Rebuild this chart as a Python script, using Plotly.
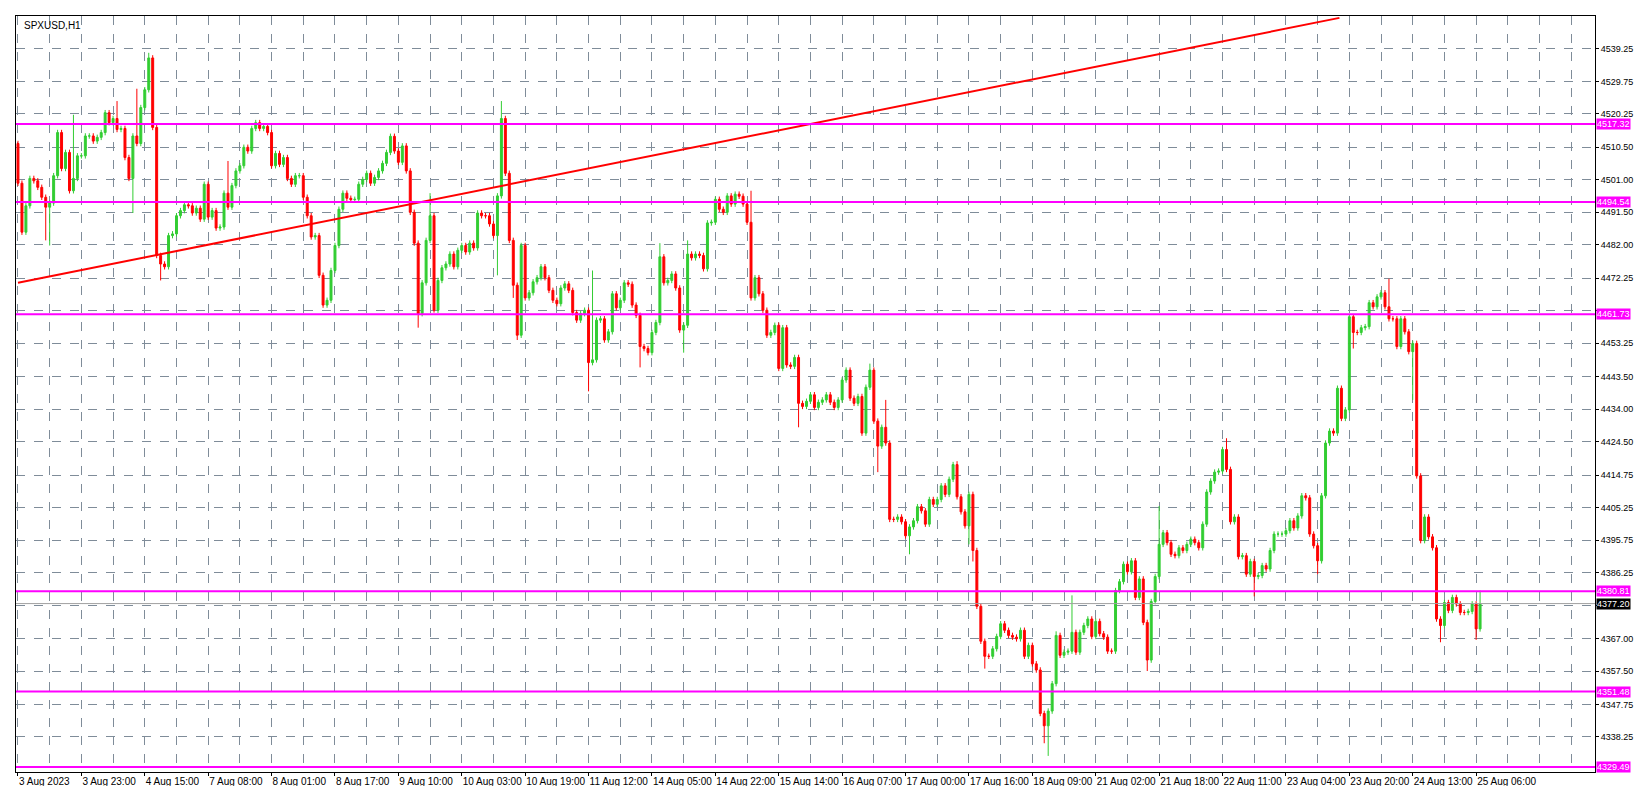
import plotly.graph_objects as go

# hourly closes, SPXUSD H1 (bar 0 = 3 Aug 2023 07:00)
closes = [
    4500.0, 4485.7, 4493.4, 4501.4, 4500.7, 4498.8, 4495.9, 4493.0, 4494.2, 4502.2,
    4514.8, 4504.3, 4509.0, 4497.8, 4501.4, 4508.0, 4508.0, 4513.8, 4513.8, 4512.3,
    4513.4, 4514.8, 4520.6, 4517.7, 4518.9, 4515.7, 4516.0, 4507.5, 4501.4, 4513.8,
    4511.6, 4522.1, 4527.3, 4536.6, 4516.3, 4478.9, 4476.4, 4475.6, 4484.7, 4485.2,
    4490.5, 4492.0, 4493.7, 4493.4, 4491.3, 4492.7, 4489.5, 4499.7, 4490.1, 4492.0,
    4486.9, 4487.2, 4497.1, 4493.0, 4499.3, 4503.6, 4505.1, 4510.5, 4509.4, 4516.0,
    4517.7, 4516.0, 4516.6, 4514.8, 4505.1, 4508.7, 4505.5, 4507.5, 4501.4, 4499.7,
    4502.2, 4502.2, 4495.9, 4490.5, 4484.3, 4484.7, 4473.1, 4464.4, 4465.8, 4474.5,
    4481.8, 4492.4, 4497.1, 4495.6, 4495.2, 4495.3, 4499.7, 4501.1, 4502.9, 4500.0,
    4501.7, 4503.6, 4505.8, 4509.0, 4513.7, 4509.4, 4506.1, 4510.9, 4503.6, 4491.5,
    4482.5, 4461.9, 4470.9, 4483.3, 4490.5, 4462.9, 4471.6, 4475.3, 4476.4, 4479.3,
    4475.6, 4480.4, 4481.8, 4479.9, 4482.5, 4481.1, 4491.3, 4490.5, 4490.5, 4488.1,
    4484.7, 4496.3, 4518.9, 4502.9, 4483.3, 4470.2, 4455.6, 4481.8, 4466.5, 4468.0,
    4471.2, 4472.4, 4475.6, 4472.4, 4468.7, 4465.8, 4464.8, 4469.4, 4470.6, 4468.7,
    4462.2, 4460.0, 4461.9, 4462.9, 4447.6, 4448.4, 4460.0, 4460.4, 4454.2, 4456.6,
    4467.7, 4463.6, 4465.8, 4470.9, 4470.5, 4464.4, 4461.4, 4452.3, 4451.7, 4450.5,
    4456.4, 4459.3, 4478.5, 4470.9, 4471.6, 4473.5, 4469.4, 4457.1, 4458.5, 4479.3,
    4478.2, 4479.3, 4478.9, 4475.0, 4488.4, 4488.6, 4495.3, 4492.4, 4491.5, 4496.3,
    4493.9, 4496.8, 4496.2, 4493.9, 4488.6, 4466.5, 4472.4, 4467.7, 4462.9, 4455.6,
    4456.4, 4458.5, 4445.9, 4457.8, 4446.9, 4446.5, 4449.1, 4435.7, 4434.8, 4436.3,
    4438.2, 4434.5, 4436.0, 4436.7, 4438.2, 4436.0, 4434.5, 4436.7, 4442.5, 4445.4,
    4437.2, 4435.7, 4437.7, 4427.0, 4440.4, 4445.4, 4430.5, 4423.2, 4428.7, 4424.1,
    4401.8, 4401.8, 4402.5, 4401.1, 4397.0, 4399.6, 4401.4, 4405.5, 4404.3, 4400.4,
    4407.6, 4406.2, 4407.6, 4411.6, 4409.1, 4413.5, 4417.8, 4408.4, 4404.0, 4399.9,
    4409.1, 4392.7, 4376.4, 4366.2, 4361.8, 4361.8, 4364.0, 4367.6, 4371.3, 4369.4,
    4367.9, 4367.4, 4366.9, 4369.4, 4361.8, 4365.0, 4359.6, 4357.8, 4345.1, 4341.5,
    4345.8, 4353.8, 4367.9, 4362.1, 4363.0, 4363.3, 4368.8, 4363.0, 4368.8, 4370.8,
    4372.7, 4367.6, 4372.0, 4368.4, 4367.4, 4363.3, 4363.3, 4381.0, 4383.6, 4388.7,
    4386.5, 4389.7, 4379.0, 4384.4, 4371.7, 4360.7, 4377.8, 4385.1, 4394.5, 4397.9,
    4395.0, 4391.6, 4391.2, 4393.5, 4392.7, 4394.5, 4396.0, 4395.0, 4393.5, 4400.4,
    4409.8, 4413.0, 4415.6, 4415.9, 4422.2, 4416.4, 4401.1, 4402.5, 4390.9, 4391.2,
    4385.8, 4389.5, 4385.1, 4385.4, 4388.3, 4387.3, 4392.7, 4397.5, 4397.5, 4397.5,
    4398.5, 4401.4, 4399.3, 4402.8, 4408.7, 4408.1, 4397.5, 4394.1, 4389.7, 4408.7,
    4424.1, 4427.6, 4427.0, 4440.1, 4431.3, 4433.8, 4461.0, 4456.4, 4456.4, 4457.8,
    4458.1, 4465.1, 4463.9, 4466.8, 4468.0, 4463.9, 4460.4, 4460.4, 4452.3, 4460.4,
    4456.6, 4450.8, 4453.2, 4414.5, 4395.6, 4402.5, 4396.7, 4393.5, 4372.7, 4370.8,
    4377.5, 4375.2, 4379.0, 4377.1, 4374.6, 4374.6, 4374.9, 4377.1, 4369.8, 4377.2,
]
first_open = 4511.6

# long wicks that stand out (bar index -> price)
spike_highs = {14: 4520.0, 25: 4524.0, 30: 4527.6, 33: 4538.1, 53: 4506.5, 104: 4497.1,
               122: 4524.0, 145: 4474.5, 162: 4482.5, 169: 4483.3, 185: 4497.8,
               215: 4447.3, 219: 4436.7, 237: 4418.8, 262: 4369.1, 266: 4379.6,
               288: 4405.7, 305: 4425.5, 346: 4472.1, 369: 4381.0}
spike_lows = {7: 4483.3, 8: 4481.8, 29: 4491.3, 36: 4471.6, 101: 4457.8, 105: 4462.2,
              121: 4473.1, 125: 4466.5, 126: 4454.2, 144: 4439.2, 157: 4446.2,
              168: 4450.5, 197: 4428.7, 217: 4415.6, 225: 4391.6, 240: 4394.5,
              241: 4389.5, 244: 4358.2, 259: 4336.4, 260: 4332.7, 285: 4357.5,
              312: 4379.3, 328: 4385.8, 337: 4451.7, 352: 4436.7, 359: 4365.9,
              368: 4366.6}

levels = [4517.32, 4494.54, 4461.73, 4380.81, 4351.48, 4329.49]
last_price = 4377.20
trend_start, trend_end = (0, 4470.9), (333.5, 4548.3)

x_labels = ["3 Aug 2023", "3 Aug 23:00", "4 Aug 15:00", "7 Aug 08:00", "8 Aug 01:00",
            "8 Aug 17:00", "9 Aug 10:00", "10 Aug 03:00", "10 Aug 19:00", "11 Aug 12:00",
            "14 Aug 05:00", "14 Aug 22:00", "15 Aug 14:00", "16 Aug 07:00", "17 Aug 00:00",
            "17 Aug 16:00", "18 Aug 09:00", "21 Aug 02:00", "21 Aug 18:00", "22 Aug 11:00",
            "23 Aug 04:00", "23 Aug 20:00", "24 Aug 13:00", "25 Aug 06:00"]
y_ticks = [4539.25, 4529.75, 4520.25, 4510.50, 4501.00, 4491.50, 4482.00, 4472.25,
           4462.75, 4453.25, 4443.50, 4434.00, 4424.50, 4414.75, 4405.25, 4395.75,
           4386.25, 4376.50, 4367.00, 4357.50, 4347.75, 4338.25]
hidden_ticks = [4462.75, 4376.50]  # covered by the level tags in the terminal

bars = list(range(len(closes)))
opens = [first_open] + closes[:-1]
highs = [spike_highs.get(i, max(o, c) + 0.8) for i, (o, c) in enumerate(zip(opens, closes))]
lows = [spike_lows.get(i, min(o, c) - 0.8) for i, (o, c) in enumerate(zip(opens, closes))]

MAGENTA = "#FF00FF"
FONT = "Liberation Sans"
fig = go.Figure()
fig.add_trace(go.Candlestick(
    x=bars, open=opens, high=highs, low=lows, close=closes,
    increasing=dict(line=dict(color="#32CD32", width=1), fillcolor="#32CD32"),
    decreasing=dict(line=dict(color="#FF0000", width=1), fillcolor="#FF0000"),
    whiskerwidth=0, showlegend=False, hoverinfo="skip"))

fig.add_trace(go.Scatter(x=[trend_start[0], trend_end[0]], y=[trend_start[1], trend_end[1]],
                         mode="lines", line=dict(color="#FF0000", width=2),
                         showlegend=False, hoverinfo="skip"))

fig.add_hline(y=last_price, line=dict(color="#A0A0A0", width=1))
for lv in levels:
    fig.add_hline(y=lv, line=dict(color=MAGENTA, width=2))
    fig.add_annotation(x=1, xref="paper", y=lv, yref="y", text=f"{lv:.2f}",
                       showarrow=False, xanchor="left", xshift=1,
                       font=dict(color="white", size=9, family=FONT),
                       bgcolor=MAGENTA, borderpad=0)
fig.add_annotation(x=1, xref="paper", y=last_price, yref="y", text=f"{last_price:.2f}",
                   showarrow=False, xanchor="left", xshift=1,
                   font=dict(color="white", size=9, family=FONT),
                   bgcolor="black", borderpad=0)
fig.add_annotation(x=0, xref="paper", y=1, yref="paper", text="SPXUSD,H1", showarrow=False,
                   xanchor="left", yanchor="top", xshift=6, yshift=-2,
                   font=dict(color="black", size=10, family=FONT))

grid = dict(showgrid=True, gridcolor="#7F8C99", griddash="dash", gridwidth=1)
fig.update_xaxes(range=[-0.5, 398], tickvals=bars[::16][:len(x_labels)], ticktext=x_labels,
                 tickangle=0, ticklabelposition="outside right", ticks="outside", ticklen=3,
                 tickcolor="black", showline=True, linecolor="black", mirror=True,
                 rangeslider_visible=False, zeroline=False,
                 minor=dict(dtick=8, tick0=0, showgrid=True, gridcolor="#7F8C99",
                            griddash="dash"),
                 tickfont=dict(size=10, family=FONT, color="black"), **grid)
fig.update_yaxes(range=[4328.0, 4548.85], side="right", tickvals=y_ticks,
                 ticktext=["" if v in hidden_ticks else f"{v:.2f}" for v in y_ticks],
                 ticks="outside", ticklen=3,
                 tickcolor="black", showline=True, linecolor="black", mirror=True,
                 zeroline=False, tickfont=dict(size=9, family=FONT, color="black"), **grid)
fig.update_layout(width=1643, height=786, margin=dict(l=8, r=56, t=7, b=21),
                  plot_bgcolor="white", paper_bgcolor="white")

fig.write_html("out.html")
